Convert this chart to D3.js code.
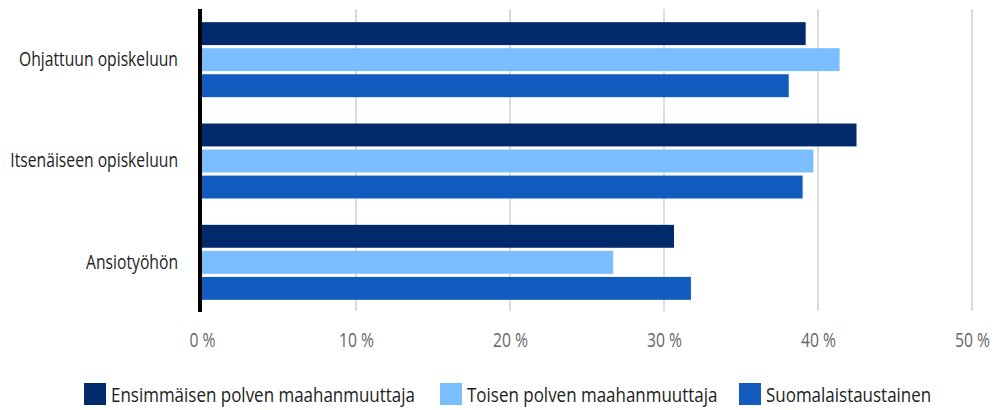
<!DOCTYPE html>
<html>
<head>
<meta charset="utf-8">
<script src="https://cdn.jsdelivr.net/npm/d3@7"></script>
<style>
  html, body { margin: 0; padding: 0; background: #fff; }
  svg text { font-family: "Open Sans", "Noto Sans", "DejaVu Sans", sans-serif; }
</style>
</head>
<body>
<svg id="chart" width="993" height="410"></svg>
<script>
const categories = ["Ohjattuun opiskeluun", "Itsenäiseen opiskeluun", "Ansiotyöhön"];
const seriesNames = ["Ensimmäisen polven maahanmuuttaja", "Toisen polven maahanmuuttaja", "Suomalaistaustainen"];
const firstGen = [39.2, 42.5, 30.65];
const secondGen = [41.4, 39.7, 26.7];
const finnish = [38.1, 39.0, 31.75];
const tickValues = [0, 10, 20, 30, 40, 50];
const tickLabels = ["0 %", "10 %", "20 %", "30 %", "40 %", "50 %"];
const colors = ["#002a6c", "#7abeff", "#115bbf"];

const series = [firstGen, secondGen, finnish];

const svg = d3.select("#chart");
const x = d3.scaleLinear().domain([0, 50]).range([202, 972]);
const y = d3.scaleBand().domain(categories).range([9, 313]).paddingInner(0.26).paddingOuter(0.13);
const ySub = d3.scaleBand().domain(d3.range(series.length)).range([0, y.bandwidth()]).paddingInner(0.12);

// gridlines
svg.append("g").selectAll("line").data(tickValues.slice(1)).join("line")
  .attr("x1", d => x(d)).attr("x2", d => x(d))
  .attr("y1", 9).attr("y2", 311)
  .attr("stroke", "#dcdcdc").attr("stroke-width", 2);

// bars
const groups = svg.append("g").selectAll("g").data(categories).join("g")
  .attr("transform", c => `translate(0,${y(c)})`);
groups.selectAll("rect").data((c, i) => series.map((s, k) => ({k, v: s[i]}))).join("rect")
  .attr("x", x(0))
  .attr("y", d => ySub(d.k))
  .attr("width", d => x(d.v) - x(0))
  .attr("height", ySub.bandwidth())
  .attr("fill", d => colors[d.k]);

// axis line
svg.append("line").attr("x1", 200).attr("x2", 200).attr("y1", 9).attr("y2", 312)
  .attr("stroke", "#000").attr("stroke-width", 4);

// x tick labels
const xAxis = d3.axisBottom(x).tickValues(tickValues).tickFormat((d, i) => tickLabels[i]).tickSize(0).tickPadding(0);
const gx = svg.append("g").attr("transform", "translate(0,333)").call(xAxis);
gx.select(".domain").remove();
gx.selectAll("text").attr("font-size", 20).attr("fill", "#666").attr("dy", "0.71em");

// category labels
const yAxis = d3.axisLeft(y).tickSize(0).tickPadding(0);
const gy = svg.append("g").attr("transform", "translate(178,0)").call(yAxis);
gy.select(".domain").remove();
gy.selectAll("text").attr("font-size", 20).attr("fill", "#222").attr("dy", "0.32em");

// legend
const legendX = [84, 440, 739];
const lg = svg.append("g").attr("class", "legend").selectAll("g").data(seriesNames).join("g")
  .attr("transform", (d, i) => `translate(${legendX[i]},383)`);
lg.append("rect").attr("width", 22).attr("height", 22).attr("fill", (d, i) => colors[i]);
lg.append("text").attr("x", 27).attr("y", 18.5).attr("font-size", 20).attr("fill", "#222").text(d => d);

svg.selectAll("g[font-family]").attr("font-family", null).attr("font-size", null);

// condensed look: compress texts horizontally
function condense(sel, k) {
  sel.each(function() {
    const w = this.getComputedTextLength();
    d3.select(this).attr("textLength", w * k).attr("lengthAdjust", "spacingAndGlyphs");
  });
}
const kAxis = 159 / gy.selectAll("text").nodes()[0].getComputedTextLength();
const legendTexts = svg.selectAll(".legend text");
const kLegend = 304 / legendTexts.nodes()[0].getComputedTextLength();
condense(gy.selectAll("text"), kAxis);
condense(gx.selectAll("text"), kAxis);
condense(legendTexts, kLegend);
</script>
</body>
</html>
